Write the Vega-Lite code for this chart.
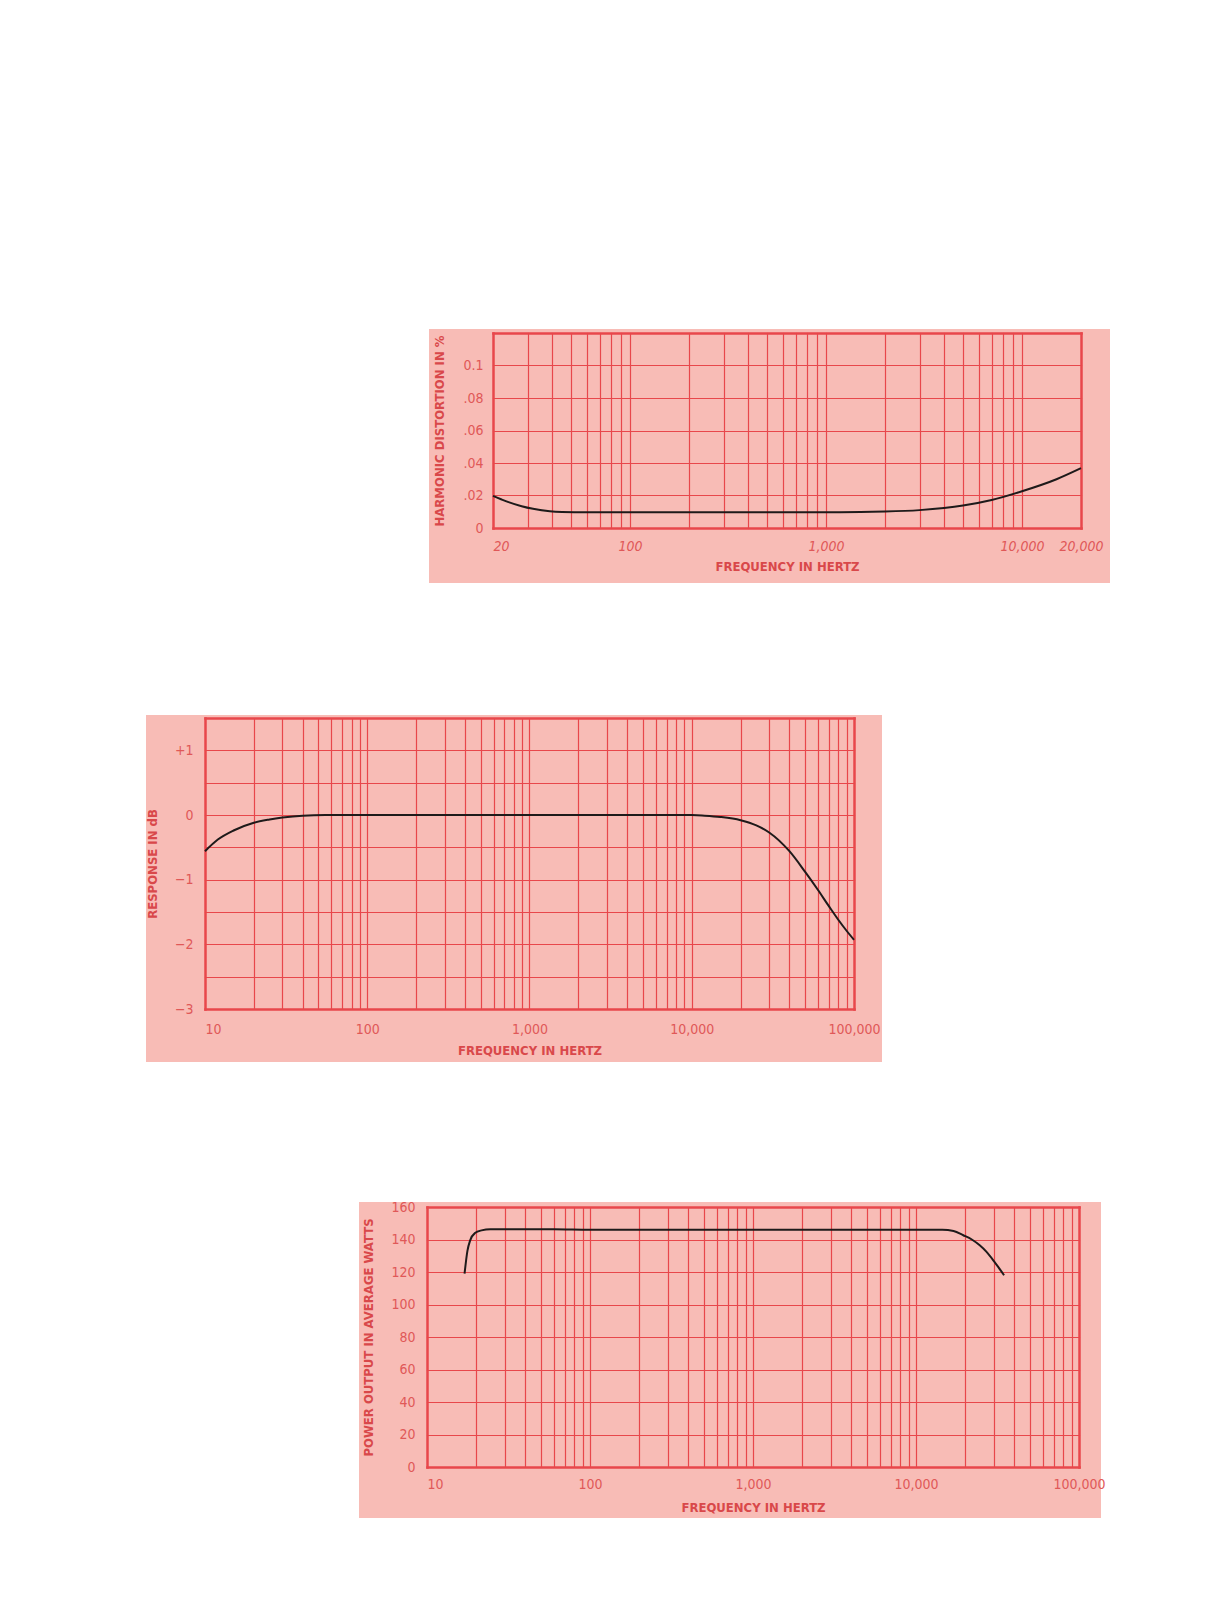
{
  "$schema": "https://vega.github.io/schema/vega-lite/v6.json",
  "background": "white",
  "padding": {"left": 146, "top": 326, "right": 0, "bottom": 0},
  "config": {
    "view": {"stroke": null},
    "axis": {
      "labelFont": "Liberation Sans Narrow, DejaVu Sans Condensed, Roboto Condensed, Arial Narrow, sans-serif",
      "titleFont": "Liberation Sans Narrow, DejaVu Sans Condensed, Roboto Condensed, Arial Narrow, sans-serif",
      "labelColor": "#e05858",
      "titleColor": "#d9484a",
      "titleFontWeight": "bold",
      "titleFontSize": 13,
      "labelFontSize": 14,
      "gridColor": "#e8474b",
      "gridOpacity": 1,
      "gridCap": "square",
      "domain": false,
      "ticks": false,
      "tickSize": 0,
      "labelOverlap": false,
      "labelFlush": false,
      "labelBound": false
    },
    "line": {"color": "#1e1a1a", "strokeWidth": 2, "interpolate": "monotone"}
  },
  "spacing": 128,
  "vconcat": [
    {
      "spacing": 0,
      "hconcat": [
        {"width": 283, "height": 1, "data": {"values": []}, "mark": "point"},
        {
          "width": 681,
          "height": 254,
          "view": {"fill": "#f8bcb6", "stroke": null},
          "resolve": {"axis": {"x": "independent"}},
          "layer": [
            {
              "data": {"values": [
                {"hz": 20, "pct": 0.0198}, {"hz": 22, "pct": 0.0177}, {"hz": 24, "pct": 0.0159},
                {"hz": 28, "pct": 0.0134}, {"hz": 32, "pct": 0.0118}, {"hz": 39, "pct": 0.0103},
                {"hz": 45, "pct": 0.0099}, {"hz": 60, "pct": 0.0097}, {"hz": 100, "pct": 0.0097},
                {"hz": 300, "pct": 0.0097}, {"hz": 1000, "pct": 0.0097}, {"hz": 1500, "pct": 0.0098},
                {"hz": 2000, "pct": 0.0101}, {"hz": 3000, "pct": 0.011}, {"hz": 4000, "pct": 0.0123},
                {"hz": 5000, "pct": 0.0138}, {"hz": 7000, "pct": 0.0172}, {"hz": 10000, "pct": 0.0226},
                {"hz": 15000, "pct": 0.030}, {"hz": 20000, "pct": 0.0368}
              ]},
              "mark": "line",
              "encoding": {
                "x": {
                  "field": "hz", "type": "quantitative",
                  "scale": {"type": "log", "domain": [20, 20000], "range": [64, 652], "nice": false},
                  "axis": {
                    "orient": "top", "labels": false, "title": null, "grid": true,
                    "values": [20, 30, 40, 50, 60, 70, 80, 90, 100, 200, 300, 400, 500, 600, 700, 800, 900, 1000, 2000, 3000, 4000, 5000, 6000, 7000, 8000, 9000, 10000, 20000],
                    "gridWidth": {"condition": {"test": "datum.value == 20 || datum.value == 20000", "value": 2.5}, "value": 1.2}
                  }
                },
                "y": {
                  "field": "pct", "type": "quantitative",
                  "scale": {"domain": [0, 0.12], "range": [199, 4], "nice": false, "zero": false},
                  "axis": {
                    "orient": "left", "offset": -64, "grid": true,
                    "values": [0, 0.02, 0.04, 0.06, 0.08, 0.1, 0.12],
                    "labelExpr": "datum.value == 0 ? '0' : datum.value == 0.1 ? '0.1' : datum.value > 0.11 ? '' : replace(format(datum.value, '.2f'), '0.', '.')",
                    "labelPadding": 10,
                    "title": "HARMONIC DISTORTION IN %",
                    "titlePadding": 16,
                    "gridWidth": {"condition": {"test": "datum.value == 0 || datum.value > 0.11", "value": 2.5}, "value": 1.2}
                  }
                }
              }
            },
            {
              "data": {"values": []},
              "mark": "point",
              "encoding": {
                "x": {
                  "field": "hz", "type": "quantitative",
                  "axis": {
                    "orient": "bottom", "offset": -55, "grid": false,
                    "values": [20, 100, 1000, 10000, 20000],
                    "format": ",",
                    "labelFontStyle": "italic",
                    "labelFontSize": 14,
                    "labelPadding": 11,
                    "labelAlign": {"condition": {"test": "datum.value == 20", "value": "left"}, "value": "center"},
                    "title": "FREQUENCY IN HERTZ",
                    "titlePadding": 7
                  }
                }
              }
            }
          ]
        }
      ]
    },
    {
      "spacing": 138,
      "vconcat": [
        {
          "width": 736,
          "height": 347,
          "view": {"fill": "#f8bcb6", "stroke": null},
          "resolve": {"axis": {"x": "independent"}},
          "layer": [
            {
              "data": {"values": [
                {"hz": 10, "db": -0.56}, {"hz": 12, "db": -0.38}, {"hz": 15, "db": -0.24},
                {"hz": 20, "db": -0.12}, {"hz": 25, "db": -0.07}, {"hz": 30, "db": -0.04},
                {"hz": 40, "db": -0.01}, {"hz": 55, "db": 0}, {"hz": 100, "db": 0},
                {"hz": 1000, "db": 0}, {"hz": 10000, "db": 0}, {"hz": 12000, "db": -0.01},
                {"hz": 15000, "db": -0.03}, {"hz": 20000, "db": -0.08}, {"hz": 25000, "db": -0.16},
                {"hz": 30000, "db": -0.27}, {"hz": 40000, "db": -0.56}, {"hz": 50000, "db": -0.88},
                {"hz": 60000, "db": -1.16}, {"hz": 70000, "db": -1.41}, {"hz": 80000, "db": -1.62},
                {"hz": 90000, "db": -1.79}, {"hz": 100000, "db": -1.93}
              ]},
              "mark": "line",
              "encoding": {
                "x": {
                  "field": "hz", "type": "quantitative",
                  "scale": {"type": "log", "domain": [10, 100000], "range": [59, 708], "nice": false},
                  "axis": {
                    "orient": "top", "labels": false, "title": null, "grid": true,
                    "values": [10, 20, 30, 40, 50, 60, 70, 80, 90, 100, 200, 300, 400, 500, 600, 700, 800, 900, 1000, 2000, 3000, 4000, 5000, 6000, 7000, 8000, 9000, 10000, 20000, 30000, 40000, 50000, 60000, 70000, 80000, 90000, 100000],
                    "gridWidth": {"condition": {"test": "datum.value == 10 || datum.value == 100000", "value": 2.5}, "value": 1.2}
                  }
                },
                "y": {
                  "field": "db", "type": "quantitative",
                  "scale": {"domain": [-3, 1.5], "range": [294, 3], "nice": false, "zero": false},
                  "axis": {
                    "orient": "left", "offset": -59, "grid": true,
                    "values": [-3, -2.5, -2, -1.5, -1, -0.5, 0, 0.5, 1, 1.5],
                    "labelExpr": "datum.value % 1 != 0 || datum.value > 1 ? '' : datum.value > 0 ? '+' + datum.value : format(datum.value, 'd')",
                    "labelPadding": 12,
                    "title": "RESPONSE IN dB",
                    "titlePadding": 15,
                    "gridWidth": {"condition": {"test": "datum.value == -3 || datum.value == 1.5", "value": 2.5}, "value": 1.2}
                  }
                }
              }
            },
            {
              "data": {"values": []},
              "mark": "point",
              "encoding": {
                "x": {
                  "field": "hz", "type": "quantitative",
                  "axis": {
                    "orient": "bottom", "offset": -53, "grid": false,
                    "values": [10, 100, 1000, 10000, 100000],
                    "format": ",",
                    "labelPadding": 13,
                    "labelAlign": {"condition": {"test": "datum.value == 10", "value": "left"}, "value": "center"},
                    "title": "FREQUENCY IN HERTZ",
                    "titlePadding": 8
                  }
                }
              }
            }
          ]
        },
        {
          "spacing": 0,
          "hconcat": [
            {"width": 213, "height": 1, "data": {"values": []}, "mark": "point"},
            {
              "width": 742,
              "height": 316,
              "view": {"fill": "#f8bcb6", "stroke": null},
              "resolve": {"axis": {"x": "independent"}},
              "layer": [
                {
                  "data": {"values": [
                    {"hz": 17, "watts": 119}, {"hz": 17.7, "watts": 133}, {"hz": 18.4, "watts": 139.5},
                    {"hz": 19.7, "watts": 144}, {"hz": 21.6, "watts": 145.6}, {"hz": 24.5, "watts": 146.3},
                    {"hz": 60, "watts": 146.3}, {"hz": 100, "watts": 146}, {"hz": 1000, "watts": 146},
                    {"hz": 10000, "watts": 146}, {"hz": 14500, "watts": 146}, {"hz": 17000, "watts": 145.2},
                    {"hz": 19500, "watts": 142.6}, {"hz": 22000, "watts": 140}, {"hz": 24600, "watts": 136.4},
                    {"hz": 27000, "watts": 132.5}, {"hz": 29800, "watts": 127.2}, {"hz": 32000, "watts": 123},
                    {"hz": 34700, "watts": 118}
                  ]},
                  "mark": "line",
                  "encoding": {
                    "x": {
                      "field": "hz", "type": "quantitative",
                      "scale": {"type": "log", "domain": [10, 100000], "range": [68, 720], "nice": false},
                      "axis": {
                        "orient": "top", "labels": false, "title": null, "grid": true,
                        "values": [10, 20, 30, 40, 50, 60, 70, 80, 90, 100, 200, 300, 400, 500, 600, 700, 800, 900, 1000, 2000, 3000, 4000, 5000, 6000, 7000, 8000, 9000, 10000, 20000, 30000, 40000, 50000, 60000, 70000, 80000, 90000, 100000],
                        "gridWidth": {"condition": {"test": "datum.value == 10 || datum.value == 100000", "value": 2.5}, "value": 1.2}
                      }
                    },
                    "y": {
                      "field": "watts", "type": "quantitative",
                      "scale": {"domain": [0, 160], "range": [265, 5], "nice": false, "zero": false},
                      "axis": {
                        "orient": "left", "offset": -68, "grid": true,
                        "values": [0, 20, 40, 60, 80, 100, 120, 140, 160],
                        "format": "d",
                        "labelPadding": 12,
                        "title": "POWER OUTPUT IN AVERAGE WATTS",
                        "titlePadding": 15,
                        "gridWidth": {"condition": {"test": "datum.value == 0 || datum.value == 160", "value": 2.5}, "value": 1.2}
                      }
                    }
                  }
                },
                {
                  "data": {"values": []},
                  "mark": "point",
                  "encoding": {
                    "x": {
                      "field": "hz", "type": "quantitative",
                      "axis": {
                        "orient": "bottom", "offset": -51, "grid": false,
                        "values": [10, 100, 1000, 10000, 100000],
                        "format": ",",
                        "labelPadding": 10,
                        "labelAlign": {"condition": {"test": "datum.value == 10", "value": "left"}, "value": "center"},
                        "title": "FREQUENCY IN HERTZ",
                        "titlePadding": 10
                      }
                    }
                  }
                }
              ]
            }
          ]
        }
      ]
    }
  ]
}
